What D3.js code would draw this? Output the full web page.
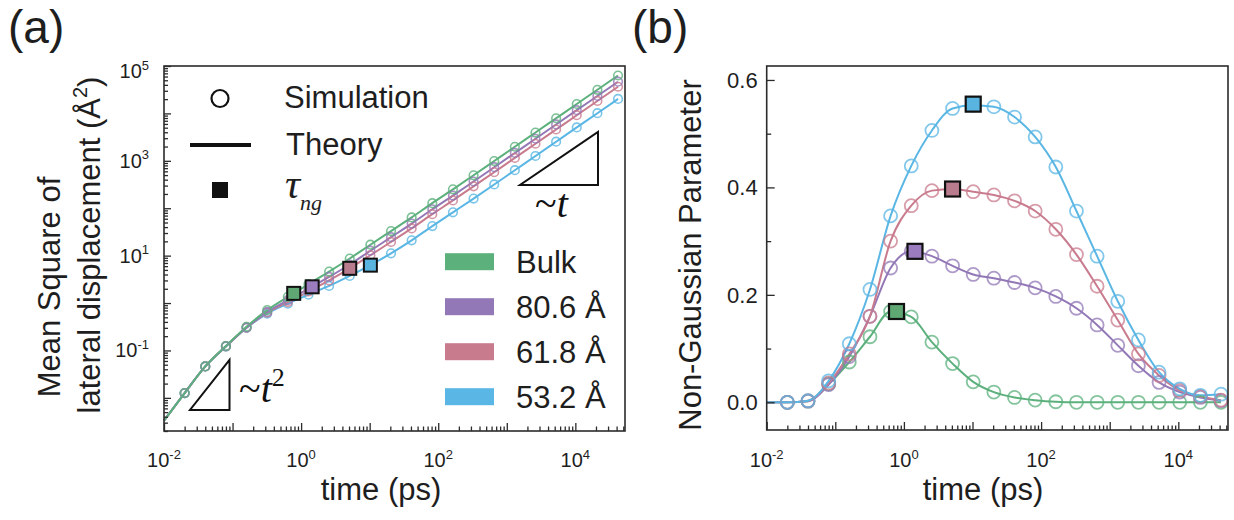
<!DOCTYPE html>
<html><head><meta charset="utf-8">
<script src="https://cdn.jsdelivr.net/npm/d3@7"></script>
<style>
body{margin:0;background:#fff}
svg{font-family:"Liberation Sans",Arial,sans-serif;}
</style>
</head><body>
<svg id="c" width="1234" height="520"></svg>
<script>
// ---------------- DATA ----------------
const seriesNames = ["Bulk", "80.6 Å", "61.8 Å", "53.2 Å"];
const seriesColors = ["#5bb07c", "#9278b6", "#c97b8e", "#5ab6e4"];
const squareColors = ["#5fa874", "#9a7cbf", "#b97c8f", "#5ab4e0"];

// simulation sampling times (ps)
const simTimes = [0.02, 0.04, 0.08, 0.16, 0.32, 0.64, 1.28, 2.56, 5.12, 10.24, 20.48, 40.96,
  81.92, 163.84, 327.68, 655.36, 1310.72, 2621.44, 5242.88, 10485.76, 20971.52, 41943.04];

// (a) mean square lateral displacement (Å^2)
const msdBulk = [0.0126, 0.046, 0.124, 0.316, 0.71, 1.35, 2.5, 4.6, 8.7, 17, 33, 64,
  128, 250, 495, 990, 1980, 3950, 7900, 15800, 31500, 63000];
const msd806 = [0.0126, 0.046, 0.123, 0.306, 0.65, 1.15, 2.0, 3.55, 6.5, 12.7, 24.5, 47.5,
  95, 185, 366, 733, 1465, 2920, 5850, 11700, 23300, 46600];
const msd618 = [0.0126, 0.046, 0.122, 0.303, 0.625, 1.05, 1.75, 3.0, 5.4, 10.2, 19.5, 37.5,
  75, 146, 290, 575, 1150, 2290, 4580, 9160, 18300, 36500];
const msd532 = [0.0126, 0.046, 0.121, 0.30, 0.60, 0.97, 1.5, 2.3, 3.74, 6.3, 11.2, 21,
  42, 82, 160, 317, 634, 1265, 2530, 5060, 10100, 20200];

// (b) non-Gaussian parameter
const ngpBulk = [0.0, 0.002, 0.034, 0.075, 0.122, 0.169, 0.159, 0.112, 0.072, 0.038, 0.019, 0.009,
  0.004, 0.001, 0, 0, 0, 0, 0, 0, 0, 0];
const ngp806 = [0.0, 0.002, 0.033, 0.085, 0.16, 0.25, 0.281, 0.272, 0.254, 0.238, 0.231, 0.223,
  0.213, 0.197, 0.175, 0.144, 0.106, 0.068, 0.037, 0.019, 0.009, 0.003];
const ngp618 = [0.0, 0.003, 0.036, 0.09, 0.16, 0.30, 0.366, 0.394, 0.397, 0.392, 0.386, 0.375,
  0.356, 0.322, 0.275, 0.216, 0.153, 0.09, 0.05, 0.022, 0.011, 0.004];
const ngp532 = [0.0, 0.003, 0.04, 0.109, 0.21, 0.347, 0.44, 0.506, 0.547, 0.553, 0.55, 0.531,
  0.494, 0.438, 0.356, 0.272, 0.188, 0.116, 0.056, 0.025, 0.013, 0.015];

// theory curves start at the left edge of the time axis
const theoryStartTime = 0.01;
const theoryStartMSD = [0.0033, 0.0033, 0.0033, 0.0033];
const theoryStartNGP = [0, 0, 0, 0];

// tau_ng markers
const tauTimes = [0.78, 1.45, 5.12, 10.24];
const tauMSD = [1.6, 2.2, 5.4, 6.3];
const tauNGP = [0.169, 0.281, 0.397, 0.555];

// axis ticks
const xTickVals = [0.01, 1, 100, 10000];
const xTickExp = ["-2", "0", "2", "4"];
const yaTickVals = [0.1, 10, 1000, 100000];
const yaTickExp = ["-1", "1", "3", "5"];
const ybTickVals = [0, 0.2, 0.4, 0.6];
const ybTickLabels = ["0.0", "0.2", "0.4", "0.6"];
const ybMinorVals = [0.1, 0.3, 0.5];

const msdAll = [msdBulk, msd806, msd618, msd532];
const ngpAll = [ngpBulk, ngp806, ngp618, ngp532];

// ---------------- DRAW ----------------
const svg = d3.select("#c");
const frameColor = "#2b2b2b";
const textColor = "#1e1e1e";

function logTicks(g, scale, orient, majorLen, minorLen) {
  const all = scale.ticks();
  const isMajor = v => Math.abs(Math.log10(v) - Math.round(Math.log10(v))) < 1e-6;
  const minor = all.filter(v => !isMajor(v));
  const major = all.filter(v => isMajor(v));
  const mk = (vals, len) => orient === "bottom"
    ? d3.axisBottom(scale).tickValues(vals).tickSize(-len).tickFormat("")
    : d3.axisLeft(scale).tickValues(vals).tickSize(-len).tickFormat("");
  g.append("g").call(mk(minor, minorLen));
  g.append("g").call(mk(major, majorLen));
  g.selectAll(".domain").remove();
  g.selectAll("line").attr("stroke", frameColor).attr("stroke-width", 1.3);
}

function supLabel(g, x, y, base, exp, anchor, size, supSize) {
  const t = g.append("text").attr("x", x).attr("y", y).attr("text-anchor", anchor)
    .attr("font-size", size).attr("fill", textColor);
  t.append("tspan").text(base);
  t.append("tspan").attr("dy", -size * 0.42).attr("font-size", supSize).text(exp);
  return t;
}

// ===== Panel (a) =====
const A = {l: 164, r: 625, t: 66, b: 431};
const xa = d3.scaleLog().domain([0.01, 53000]).range([A.l, A.r]);
const ya = d3.scaleLog().domain([0.002, 100000]).range([A.b, A.t]);
const ga = svg.append("g");

const lineA = d3.line().x(d => xa(d[0])).y(d => ya(d[1])).curve(d3.curveMonotoneX);
const drawOrderA = [3, 2, 1, 0];
drawOrderA.forEach(i => {
  const pts = [[theoryStartTime, theoryStartMSD[i]]].concat(simTimes.map((t, k) => [t, msdAll[i][k]]));
  ga.append("path").attr("d", lineA(pts)).attr("fill", "none")
    .attr("stroke", seriesColors[i]).attr("stroke-width", 2);
});
drawOrderA.forEach(i => {
  ga.append("g").selectAll("circle").data(simTimes.map((t, k) => [t, msdAll[i][k]])).join("circle")
    .attr("cx", d => xa(d[0])).attr("cy", d => ya(d[1])).attr("r", 4.3)
    .attr("fill", "none").attr("stroke", seriesColors[i]).attr("stroke-width", 1.6).attr("stroke-opacity", 0.8);
});
[0, 1, 2, 3].forEach(i => {
  const s = 13;
  ga.append("rect").attr("x", xa(tauTimes[i]) - s / 2).attr("y", ya(tauMSD[i]) - s / 2)
    .attr("width", s).attr("height", s).attr("fill", squareColors[i])
    .attr("stroke", "#111").attr("stroke-width", 2);
});

const gxa = ga.append("g").attr("transform", `translate(0,${A.b})`);
logTicks(gxa, xa, "bottom", 8, 4.5);
const gya = ga.append("g").attr("transform", `translate(${A.l},0)`);
logTicks(gya, ya, "left", 7, 4);
ga.append("rect").attr("x", A.l).attr("y", A.t).attr("width", A.r - A.l).attr("height", A.b - A.t)
  .attr("fill", "none").attr("stroke", frameColor).attr("stroke-width", 1.6);

xTickVals.forEach((v, i) => supLabel(ga, xa(v), 467, "10", xTickExp[i], "middle", 20, 13));
yaTickVals.forEach((v, i) => supLabel(ga, A.l - 15, Math.max(ya(v) + 7, 78), "10", yaTickExp[i], "end", 20, 13));

ga.append("text").attr("x", 381).attr("y", 500).attr("text-anchor", "middle")
  .attr("font-size", 31).attr("fill", textColor).text("time (ps)");
ga.append("text").attr("transform", "translate(60,287) rotate(-90)").attr("text-anchor", "middle")
  .attr("font-size", 31).attr("fill", textColor).text("Mean Square of");
{
  const t = ga.append("text").attr("transform", "translate(100,245) rotate(-90)").attr("text-anchor", "middle")
    .attr("font-size", 31).attr("fill", textColor);
  t.append("tspan").text("lateral displacement (Å");
  t.append("tspan").attr("dy", -13).attr("font-size", 20).text("2");
  t.append("tspan").attr("dy", 13).text(")");
}
ga.append("text").attr("x", 8).attr("y", 43).attr("font-size", 46).attr("fill", textColor).text("(a)");

// symbol legend
ga.append("circle").attr("cx", 220).attr("cy", 98.5).attr("r", 8.5).attr("fill", "none")
  .attr("stroke", "#111").attr("stroke-width", 2.2);
ga.append("text").attr("x", 284).attr("y", 108).attr("font-size", 31).attr("fill", textColor).text("Simulation");
ga.append("line").attr("x1", 190).attr("x2", 251).attr("y1", 145).attr("y2", 145)
  .attr("stroke", "#111").attr("stroke-width", 4);
ga.append("text").attr("x", 286).attr("y", 155).attr("font-size", 31).attr("fill", textColor).text("Theory");
ga.append("rect").attr("x", 212).attr("y", 182).attr("width", 16).attr("height", 16).attr("fill", "#111");
{
  const t = ga.append("text").attr("x", 285).attr("y", 198).attr("font-family", "'Liberation Serif','DejaVu Serif',serif")
    .attr("font-style", "italic").attr("fill", textColor);
  t.append("tspan").attr("font-size", 42).text("τ");
  t.append("tspan").attr("font-size", 22).attr("dy", 12).text("ng");
}
seriesNames.forEach((n, i) => {
  const cy = 261.7 + i * 45;
  ga.append("rect").attr("x", 445).attr("y", cy - 8.5).attr("width", 49).attr("height", 17)
    .attr("fill", seriesColors[i]);
  ga.append("text").attr("x", 516).attr("y", cy + 11).attr("font-size", 31).attr("fill", textColor).text(n);
});

// slope triangles
ga.append("path").attr("d", "M190,410 L229.5,410 L229.5,360 Z").attr("fill", "none")
  .attr("stroke", "#111").attr("stroke-width", 2);
{
  const t = ga.append("text").attr("x", 239).attr("y", 402).attr("font-family", "'Liberation Serif','DejaVu Serif',serif")
    .attr("fill", "#111");
  t.append("tspan").attr("font-size", 40).text("~");
  t.append("tspan").attr("font-size", 40).attr("font-style", "italic").text("t");
  t.append("tspan").attr("font-size", 26).attr("dy", -16).text("2");
}
ga.append("path").attr("d", "M520,185 L598,185 L598,132 Z").attr("fill", "none")
  .attr("stroke", "#111").attr("stroke-width", 2);
{
  const t = ga.append("text").attr("x", 535).attr("y", 217).attr("font-family", "'Liberation Serif','DejaVu Serif',serif")
    .attr("fill", "#111");
  t.append("tspan").attr("font-size", 40).text("~");
  t.append("tspan").attr("font-size", 40).attr("font-style", "italic").text("t");
}

// ===== Panel (b) =====
const B = {l: 766.7, r: 1228, t: 66, b: 430};
const xb = d3.scaleLog().domain([0.01, 53000]).range([B.l, B.r]);
const yb = d3.scaleLinear().domain([-0.0516, 0.626]).range([B.b, B.t]);
const gb = svg.append("g");
const lineB = d3.line().x(d => xb(d[0])).y(d => yb(d[1])).curve(d3.curveMonotoneX);
const drawOrderB = [0, 1, 2, 3];
drawOrderB.forEach(i => {
  const pts = [[theoryStartTime, theoryStartNGP[i]]].concat(simTimes.map((t, k) => [t, ngpAll[i][k]]));
  gb.append("path").attr("d", lineB(pts)).attr("fill", "none")
    .attr("stroke", seriesColors[i]).attr("stroke-width", 2);
});
drawOrderB.forEach(i => {
  gb.append("g").selectAll("circle").data(simTimes.map((t, k) => [t, ngpAll[i][k]])).join("circle")
    .attr("cx", d => xb(d[0])).attr("cy", d => yb(d[1])).attr("r", 6.5)
    .attr("fill", "none").attr("stroke", seriesColors[i]).attr("stroke-width", 1.8).attr("stroke-opacity", 0.75);
});
[0, 1, 2, 3].forEach(i => {
  const s = 15;
  gb.append("rect").attr("x", xb(tauTimes[i]) - s / 2).attr("y", yb(tauNGP[i]) - s / 2)
    .attr("width", s).attr("height", s).attr("fill", squareColors[i])
    .attr("stroke", "#111").attr("stroke-width", 2.2);
});
const gxb = gb.append("g").attr("transform", `translate(0,${B.b})`);
logTicks(gxb, xb, "bottom", 8, 4.5);
const gyb = gb.append("g").attr("transform", `translate(${B.l},0)`);
gyb.append("g").call(d3.axisLeft(yb).tickValues(ybMinorVals).tickSize(-4.5).tickFormat(""));
gyb.append("g").call(d3.axisLeft(yb).tickValues(ybTickVals).tickSize(-8).tickFormat(""));
gyb.selectAll(".domain").remove();
gyb.selectAll("line").attr("stroke", frameColor).attr("stroke-width", 1.3);
gb.append("rect").attr("x", B.l).attr("y", B.t).attr("width", B.r - B.l).attr("height", B.b - B.t)
  .attr("fill", "none").attr("stroke", frameColor).attr("stroke-width", 1.6);

xTickVals.forEach((v, i) => supLabel(gb, xb(v), 467, "10", xTickExp[i], "middle", 20, 13));
ybTickVals.forEach((v, i) => gb.append("text").attr("x", B.l - 9).attr("y", yb(v) + 8)
  .attr("text-anchor", "end").attr("font-size", 22).attr("fill", textColor).text(ybTickLabels[i]));
gb.append("text").attr("x", 983).attr("y", 500).attr("text-anchor", "middle")
  .attr("font-size", 31).attr("fill", textColor).text("time (ps)");
gb.append("text").attr("transform", "translate(701,255) rotate(-90)").attr("text-anchor", "middle")
  .attr("font-size", 31).attr("fill", textColor).text("Non-Gaussian Parameter");
gb.append("text").attr("x", 632).attr("y", 43).attr("font-size", 46).attr("fill", textColor).text("(b)");
</script>
</body></html>
